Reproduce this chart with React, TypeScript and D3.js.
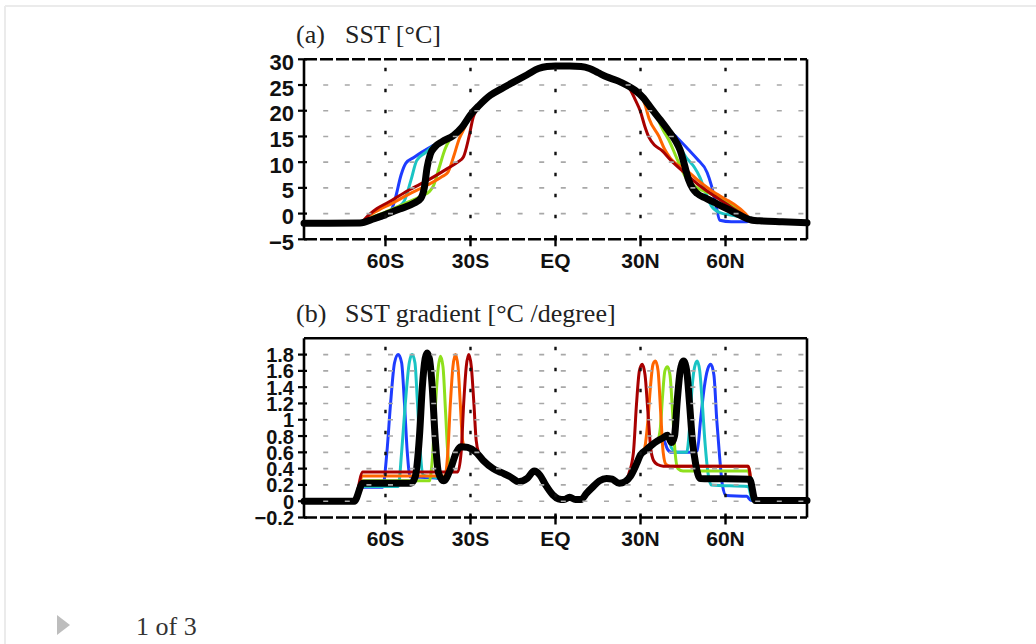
import React from "react";
import * as d3 from "d3";

type Pt = [number, number];

// ---------- axis ticks / labels ----------
const LAT_DOMAIN: [number, number] = [-88.75, 88.75];
const LAT_TICKS = [-60, -30, 0, 30, 60];
const LAT_LABELS = ["60S", "30S", "EQ", "30N", "60N"];
const SST_TICKS = [30, 25, 20, 15, 10, 5, 0, -5];
const SST_LABELS = ["30", "25", "20", "15", "10", "5", "0", "−5"];
const GRAD_TICKS = [1.8, 1.6, 1.4, 1.2, 1, 0.8, 0.6, 0.4, 0.2, 0, -0.2];
const GRAD_LABELS = ["1.8", "1.6", "1.4", "1.2", "1", "0.8", "0.6", "0.4", "0.2", "0", "−0.2"];

const SERIES_NAMES = ["blue", "cyan", "green", "orange", "red", "black"];
const SERIES_COLORS = ["#1e3cff", "#1ac4c4", "#8ee01c", "#ff6600", "#a80000", "#000000"];

// ---------- (a) SST [°C] ----------
const sstPolarSouth: Pt[] = [[-88.75, -1.9], [-80, -1.9], [-69, -1.85]];
const sstPolarNorth: Pt[] = [[69.5, -1.3], [72, -1.4], [80, -1.6], [88.75, -1.8]];
const sstCore: Pt[] = [[-27, 21], [-23, 23], [-19, 24.3], [-15, 25.5], [-10, 27], [-6, 28.2], [-3, 28.6], [0, 28.7], [5, 28.7], [9, 28.6], [12, 28.2], [15, 27.4], [18, 26.6], [22, 25.8], [25, 25.0]];
const sstNorthShared: Pt[] = [[28, 24.0], [31, 22.5], [34, 20.3]];

const sstBlackSouth: Pt[] = [[-64, -1.0], [-60, -0.2], [-55, 0.9], [-50, 2.0], [-47.5, 3.0], [-46.3, 5], [-45.3, 9], [-44.2, 11.5], [-42.5, 13.0], [-40, 14.0], [-36, 15.2], [-33, 16.8], [-30, 19.2]];
const sstBlackNorth: Pt[] = [[37, 18.2], [40, 16.0], [42.5, 14], [44, 12.3], [45.5, 9.5], [47, 6.5], [48.5, 4.8], [50, 3.9], [53, 3.0], [57, 1.9], [61, 0.8], [65, -0.3], [68.5, -1.15]];

const sstBlueSouth: Pt[] = [[-64, -1.2], [-60, -0.5], [-57.8, 0.8], [-56.5, 3], [-54.5, 7.5], [-52.8, 9.8], [-50, 10.9], [-47, 12.0], [-44, 13.0], [-42, 13.5], [-40, 14.0], [-36, 15.2], [-33, 16.8], [-30, 19.2]];
const sstBlueNorth: Pt[] = [[37, 18.2], [40, 16.2], [43, 14.7], [47, 12.4], [50, 10.6], [53.5, 8.0], [55, 5.5], [56.5, 2], [58, -1.3], [62, -1.6], [67, -1.6]];

const sstCyanSouth: Pt[] = [[-64, -1.1], [-60, -0.1], [-56, 1.1], [-53.5, 2.3], [-51, 6.5], [-49, 10.3], [-46, 11.8], [-43.5, 13.0], [-41, 13.8], [-36, 15.2], [-33, 16.8], [-30, 19.2]];
const sstCyanNorth: Pt[] = [[37, 18.2], [40, 16.0], [42.5, 14], [44, 12.8], [46, 11], [49, 9], [51, 7], [53, 4], [55, 1.5], [58, 0.2], [63, -0.4], [68, -1.0]];

const sstGreenSouth: Pt[] = [[-65, -0.8], [-60, 0.3], [-55, 1.5], [-50, 2.7], [-47, 3.5], [-44.5, 4.3], [-43, 5.5], [-41, 9], [-39, 12.5], [-37.5, 14.2], [-36, 15.2], [-33, 16.8], [-30, 19.2]];
const sstGreenNorth: Pt[] = [[35.5, 19], [38, 16.2], [40, 14.3], [43, 10.5], [46, 7.0], [50, 5.0], [55, 3.8], [60, 2.5], [65, 0.5], [68.5, -1.0]];

const sstOrangeSouth: Pt[] = [[-66, -0.5], [-62, 0.8], [-58, 1.9], [-52, 3.7], [-45, 5.6], [-40, 7.2], [-38, 8.0], [-36, 11], [-34, 14.5], [-32, 16.8], [-30, 19.2]];
const sstOrangeNorth: Pt[] = [[28, 24.0], [30, 23.0], [31.5, 21.3], [33, 18.5], [36.5, 15], [38.5, 12.5], [40.5, 10.8], [46.5, 8.3], [50, 6.6], [55, 4.5], [60, 2.8], [63, 1.8], [67, 0.0], [68.8, -1.1]];

const sstRedSouth: Pt[] = [[-66, -0.3], [-63, 1.0], [-59, 2.2], [-52, 4.5], [-45, 6.5], [-38, 8.8], [-34.5, 10.0], [-32.5, 11.0], [-30.5, 15], [-29, 18.8], [-27.5, 20.5]];
const sstRedNorth: Pt[] = [[26.5, 24.0], [28, 22.3], [30, 19.8], [31.5, 17], [33, 14.8], [35, 13.3], [37.5, 12.3], [40.5, 10.5], [45, 8.2], [50, 5.8], [55, 3.8], [60, 2.0], [65, 0.2], [68.8, -1.1]];

const sstSeries: Pt[][] = [
  [...sstPolarSouth, ...sstBlueSouth, ...sstCore, ...sstNorthShared, ...sstBlueNorth, ...sstPolarNorth],
  [...sstPolarSouth, ...sstCyanSouth, ...sstCore, ...sstNorthShared, ...sstCyanNorth, ...sstPolarNorth],
  [...sstPolarSouth, ...sstGreenSouth, ...sstCore, ...sstNorthShared, ...sstGreenNorth, ...sstPolarNorth],
  [...sstPolarSouth, ...sstOrangeSouth, ...sstCore, ...sstOrangeNorth, ...sstPolarNorth],
  [...sstPolarSouth, ...sstRedSouth, ...sstCore, ...sstRedNorth, ...sstPolarNorth],
  [...sstPolarSouth, ...sstBlackSouth, ...sstCore, ...sstNorthShared, ...sstBlackNorth, ...sstPolarNorth],
];

// ---------- (b) SST gradient [°C /degree] ----------
const gradPolarSouth: Pt[] = [[-88.75, 0], [-71, 0]];
const gradPolarNorth: Pt[] = [[71, 0.01], [88.75, 0.01]];
const gradSouthTail: Pt[] = [[-39.5, 0.25], [-37, 0.4], [-35, 0.6], [-33.5, 0.67], [-31, 0.66], [-28, 0.6]];
const gradCore: Pt[] = [[-25.5, 0.5], [-22, 0.4], [-19, 0.35], [-16, 0.3], [-13, 0.24], [-10, 0.28], [-7.5, 0.37], [-5.5, 0.32], [-3.5, 0.2], [-1, 0.08], [1, 0.03], [3, 0.02], [5, 0.05], [7, 0.02], [9, 0.02], [11, 0.1], [13, 0.17], [15.5, 0.25], [18, 0.28], [20, 0.27], [22.5, 0.22], [24.5, 0.24]];
const gradNorthShared: Pt[] = [[26.5, 0.31], [28.5, 0.45], [30, 0.57], [32, 0.63], [34, 0.69], [36, 0.74]];

const gradBlackSouth: Pt[] = [[-68, 0.22], [-51, 0.22], [-49.5, 0.3], [-48, 0.8], [-47, 1.4], [-46, 1.75], [-45.3, 1.82], [-44.5, 1.75], [-43.5, 1.4], [-42.5, 0.8], [-41.3, 0.35], ...gradSouthTail];
const gradBlackNorth: Pt[] = [[38, 0.78], [39.5, 0.81], [41, 0.72], [42, 0.8], [43, 1.25], [44, 1.6], [45.2, 1.72], [46.3, 1.6], [47.3, 1.2], [48.3, 0.75], [49.5, 0.45], [51, 0.28], [68.5, 0.27], [70.5, 0.01]];

const gradBlueSouth: Pt[] = [[-68, 0.17], [-61, 0.17], [-59.5, 0.6], [-58.2, 1.2], [-56.8, 1.7], [-55.5, 1.8], [-54.3, 1.7], [-53.3, 1.2], [-52.3, 0.6], [-51.3, 0.3], [-45, 0.29], [-41, 0.28], ...gradSouthTail];
const gradBlueNorth: Pt[] = [[38, 0.76], [39.5, 0.64], [41, 0.6], [48, 0.6], [50, 0.62], [51.2, 1.0], [52.5, 1.4], [53.7, 1.62], [54.8, 1.68], [55.9, 1.55], [56.9, 1.0], [57.9, 0.55], [58.9, 0.2], [60.2, 0.07], [67.5, 0.06], [69, 0.01]];

const gradCyanSouth: Pt[] = [[-68, 0.18], [-55.5, 0.18], [-54.3, 0.6], [-53, 1.2], [-51.6, 1.7], [-50.6, 1.8], [-49.6, 1.7], [-48.7, 1.2], [-47.7, 0.6], [-46.8, 0.32], [-41, 0.28], ...gradSouthTail];
const gradCyanNorth: Pt[] = [[38, 0.78], [39.5, 0.8], [41, 0.65], [43, 0.6], [46.3, 0.6], [47.3, 0.9], [48.2, 1.4], [49.1, 1.65], [50, 1.72], [50.9, 1.6], [51.8, 1.2], [52.8, 0.7], [53.8, 0.35], [55, 0.2], [68, 0.18], [69.5, 0.01]];

const gradGreenSouth: Pt[] = [[-68, 0.25], [-44.5, 0.25], [-43.5, 0.5], [-42.5, 1.1], [-41.5, 1.6], [-40.6, 1.78], [-39.7, 1.65], [-38.8, 1.1], [-37.9, 0.55], [-37, 0.42], [-35, 0.6], [-33.5, 0.67], [-31, 0.66], [-28, 0.6]];
const gradGreenNorth: Pt[] = [[37, 0.9], [37.8, 1.3], [38.6, 1.6], [39.5, 1.65], [40.4, 1.55], [41.3, 1.1], [42.2, 0.6], [43.2, 0.4], [45, 0.37], [68, 0.37], [70, 0.01]];

const gradOrangeSouth: Pt[] = [[-68, 0.31], [-39, 0.31], [-38, 0.6], [-37.1, 1.2], [-36.2, 1.65], [-35.3, 1.8], [-34.4, 1.65], [-33.6, 1.2], [-32.8, 0.75], [-32, 0.66], [-31, 0.66], [-28, 0.6]];
const gradOrangeNorth: Pt[] = [[26.5, 0.31], [28.5, 0.45], [30, 0.57], [31.5, 0.66], [32.5, 0.95], [33.5, 1.4], [34.4, 1.68], [35.3, 1.72], [36.2, 1.6], [37.1, 1.1], [38, 0.6], [39, 0.45], [40.5, 0.43], [68, 0.43], [70, 0.01]];

const gradRedSouth: Pt[] = [[-68, 0.36], [-34.5, 0.36], [-33.3, 0.6], [-32.4, 1.2], [-31.5, 1.65], [-30.6, 1.8], [-29.7, 1.65], [-28.8, 1.2], [-28, 0.75], [-27, 0.58]];
const gradRedNorth: Pt[] = [[26, 0.35], [27.5, 0.6], [28.6, 1.2], [29.6, 1.6], [30.6, 1.68], [31.6, 1.55], [32.6, 1.1], [33.6, 0.65], [34.6, 0.5], [36, 0.45], [38, 0.43], [68, 0.43], [70, 0.01]];

const gradSeries: Pt[][] = [
  [...gradPolarSouth, ...gradBlueSouth, ...gradCore, ...gradNorthShared, ...gradBlueNorth, ...gradPolarNorth],
  [...gradPolarSouth, ...gradCyanSouth, ...gradCore, ...gradNorthShared, ...gradCyanNorth, ...gradPolarNorth],
  [...gradPolarSouth, ...gradGreenSouth, ...gradCore, ...gradNorthShared, ...gradGreenNorth, ...gradPolarNorth],
  [...gradPolarSouth, ...gradOrangeSouth, ...gradCore, ...gradOrangeNorth, ...gradPolarNorth],
  [...gradPolarSouth, ...gradRedSouth, ...gradCore, ...gradRedNorth, ...gradPolarNorth],
  [...gradPolarSouth, ...gradBlackSouth, ...gradCore, ...gradNorthShared, ...gradBlackNorth, ...gradPolarNorth],
];

// ---------- layout ----------
const W = 1036;
const H = 644;
const X0 = 304;
const X1 = 807;
const LABEL_FONT = "'Liberation Sans', Arial, Helvetica, sans-serif";
const SERIF = "'Liberation Serif', 'Times New Roman', serif";

const x = d3.scaleLinear().domain(LAT_DOMAIN).range([X0, X1]);

interface PanelProps {
  top: number;
  bottom: number;
  yDomain: [number, number];
  ticks: number[];
  labels: string[];
  gridTicks: number[];
  series: Pt[][];
  topDashed: boolean;
  labelDy: number;
  labelSize: number;
  letter: string;
  title: string;
  titleY: number;
}

function Panel(p: PanelProps) {
  const y = d3.scaleLinear().domain(p.yDomain).range([p.bottom, p.top]);
  const line = d3
    .line<Pt>()
    .x((d) => x(d[0]))
    .y((d) => y(d[1]))
    .curve(d3.curveMonotoneX);
  const frameDash = "13 3";
  return (
    <g>
      <text x={296} y={p.titleY} fontFamily={SERIF} fontSize={26} fill="#222">
        {p.letter}
      </text>
      <text x={345} y={p.titleY} fontFamily={SERIF} fontSize={26} fill="#222">
        {p.title}
      </text>
      <defs>
        <clipPath id={`clip-${p.letter}`}>
          <rect x={X0} y={p.top} width={X1 - X0} height={p.bottom - p.top} />
        </clipPath>
      </defs>
      <g clipPath={`url(#clip-${p.letter})`}>
        {p.series.map((s, i) => (
          <path
            key={SERIES_NAMES[i]}
            d={line(s) || ""}
            fill="none"
            stroke={SERIES_COLORS[i]}
            strokeWidth={SERIES_NAMES[i] === "black" ? 7 : 3}
            strokeLinejoin="round"
            strokeLinecap="round"
          />
        ))}
      </g>
      {/* grid: grey dashed horizontals */}
      {p.gridTicks.map((t) => (
        <line
          key={"h" + t}
          x1={X0}
          x2={X1}
          y1={y(t)}
          y2={y(t)}
          stroke="#a8a8a8"
          strokeWidth={1.6}
          strokeDasharray="5 16.6"
          strokeDashoffset={2.4}
        />
      ))}
      {/* grid: black dotted verticals */}
      {LAT_TICKS.map((t) => (
        <line
          key={"v" + t}
          x1={x(t)}
          x2={x(t)}
          y1={p.top}
          y2={p.bottom}
          stroke="#111"
          strokeWidth={2.4}
          strokeDasharray="3.5 17.5"
          strokeDashoffset={12.5}
        />
      ))}
      {/* frame */}
      <line x1={X0} x2={X0} y1={p.top} y2={p.bottom} stroke="#000" strokeWidth={2.6} />
      <line x1={X1} x2={X1} y1={p.top} y2={p.bottom} stroke="#000" strokeWidth={2.6} />
      <line
        x1={X0}
        x2={X1}
        y1={p.top}
        y2={p.top}
        stroke="#000"
        strokeWidth={2.6}
        strokeDasharray={p.topDashed ? frameDash : undefined}
      />
      <line x1={X0} x2={X1} y1={p.bottom} y2={p.bottom} stroke="#000" strokeWidth={2.6} strokeDasharray={frameDash} />
      {/* y ticks and labels */}
      {p.ticks.map((t, i) => (
        <g key={"yt" + t}>
          <line x1={X0 - 6} x2={X0 + 3} y1={y(t)} y2={y(t)} stroke="#000" strokeWidth={2.2} />
          <text
            x={294}
            y={y(t) + p.labelDy}
            textAnchor="end"
            dominantBaseline="central"
            fontFamily={LABEL_FONT}
            fontWeight="bold"
            fontSize={p.labelSize}
            fill="#111"
          >
            {p.labels[i]}
          </text>
        </g>
      ))}
      {/* x ticks and labels */}
      {LAT_TICKS.map((t, i) => (
        <g key={"xt" + t}>
          <line x1={x(t)} x2={x(t)} y1={p.bottom - 4} y2={p.bottom + 7} stroke="#000" strokeWidth={2.4} />
          <text
            x={x(t)}
            y={p.bottom + 21}
            textAnchor="middle"
            dominantBaseline="central"
            fontFamily={LABEL_FONT}
            fontWeight="bold"
            fontSize={21}
            fill="#111"
          >
            {LAT_LABELS[i]}
          </text>
        </g>
      ))}
    </g>
  );
}

export default function App() {
  return (
    <svg
      width={W}
      height={H}
      viewBox={`0 0 ${W} ${H}`}
      style={{ position: "absolute", left: 0, top: 0, background: "#fff" }}
    >
      <rect x={0} y={0} width={W} height={H} fill="#fff" />
      <line x1={5} x2={W} y1={6} y2={6} stroke="#ebebeb" strokeWidth={2} />
      <line x1={5} x2={5} y1={6} y2={H} stroke="#ebebeb" strokeWidth={2} />
      <Panel
        top={59.3}
        bottom={239.3}
        yDomain={[-5, 30]}
        ticks={SST_TICKS}
        labels={SST_LABELS}
        gridTicks={SST_TICKS.filter((t) => t < 30 && t > -5)}
        series={sstSeries}
        topDashed={true}
        labelDy={3}
        labelSize={22}
        letter="(a)"
        title="SST [°C]"
        titleY={42.5}
      />
      <Panel
        top={338.3}
        bottom={517.5}
        yDomain={[-0.2, 2.0]}
        ticks={GRAD_TICKS}
        labels={GRAD_LABELS}
        gridTicks={GRAD_TICKS.filter((t) => t > -0.2)}
        series={gradSeries}
        topDashed={false}
        labelDy={0.5}
        labelSize={20}
        letter="(b)"
        title="SST gradient [°C /degree]"
        titleY={321.5}
      />
      <polygon points="57,615 70,625 57,635" fill="#bdbdbd" />
      <text x={136} y={635} fontFamily={SERIF} fontSize={26} fill="#333">
        1 of 3
      </text>
    </svg>
  );
}
